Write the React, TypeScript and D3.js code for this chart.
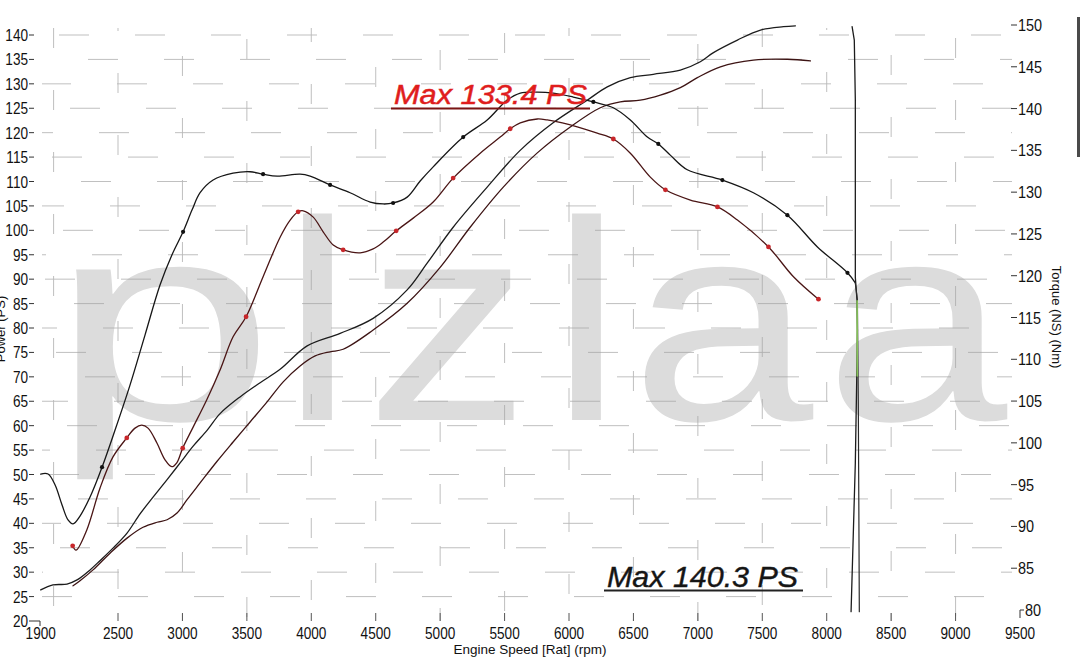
import React from "react";
import * as d3 from "d3";

// ---------- DATA ----------
// Black power curve (PS, left axis)
const powerARpm = [1900, 1957, 2011, 2065, 2112, 2151, 2205, 2283, 2376, 2477, 2593, 2710, 2826, 2919, 3005, 3075, 3137, 3238, 3393, 3525, 3626, 3735, 3913, 3991, 4146, 4301, 4457, 4558, 4635, 4744, 4845, 4946, 5179, 5365, 5521, 5622, 5754, 5878, 6033, 6189, 6344, 6476, 6608, 6693, 6786, 6918, 7190, 7431, 7695, 7928, 8161, 8223];
const powerAPs = [50.1, 50.1, 47.9, 43.8, 40.7, 39.9, 41.5, 45.4, 51.5, 59.1, 68.3, 78.6, 88.8, 95.0, 99.7, 104.2, 107.7, 110.3, 111.7, 112.0, 111.5, 111.1, 111.5, 111.1, 109.3, 107.7, 105.8, 105.4, 105.6, 106.8, 110.1, 113.0, 119.1, 122.6, 126.7, 128.1, 128.3, 128.1, 127.3, 126.3, 125.1, 122.6, 119.1, 117.7, 115.4, 112.4, 110.3, 107.7, 103.1, 96.6, 91.3, 89.2];
const powerAMarkers = [8, 14, 20, 24, 28, 32, 39, 43, 46, 48, 50];

// Red power curve (PS, left axis)
const powerBRpm = [2148, 2174, 2257, 2360, 2461, 2568, 2632, 2684, 2733, 2801, 2865, 2917, 2956, 3002, 3083, 3189, 3292, 3393, 3494, 3626, 3758, 3836, 3898, 3937, 4015, 4092, 4170, 4247, 4379, 4480, 4558, 4659, 4791, 4946, 5101, 5311, 5466, 5544, 5622, 5754, 5831, 5948, 6064, 6219, 6344, 6476, 6631, 6748, 6942, 7152, 7307, 7548, 7742, 7936];
const powerBPs = [35.4, 34.5, 38.6, 47.2, 53.6, 57.5, 59.5, 60.1, 59.5, 56.5, 53.0, 51.6, 52.4, 55.4, 59.7, 65.3, 71.4, 78.2, 82.3, 90.5, 98.6, 102.1, 103.8, 104.0, 102.7, 99.7, 97.0, 96.0, 95.4, 96.2, 97.6, 99.9, 102.5, 105.8, 110.7, 115.8, 119.1, 120.8, 122.0, 122.8, 122.6, 122.0, 121.2, 119.9, 118.7, 115.8, 110.9, 108.3, 106.2, 104.8, 102.1, 96.6, 90.5, 85.9];
const powerBMarkers = [0, 5, 13, 18, 22, 27, 31, 34, 37, 44, 47, 49, 51, 53];

// Black torque curve (Nm, right axis)
const torqueARpm = [1900, 1995, 2104, 2182, 2283, 2360, 2461, 2570, 2671, 2772, 2881, 2982, 3083, 3191, 3292, 3447, 3603, 3758, 3968, 4224, 4480, 4744, 4899, 5101, 5365, 5621, 5877, 6141, 6297, 6476, 6654, 6864, 7019, 7121, 7307, 7486, 7664, 7757];
const torqueANm = [82.4, 83.0, 83.1, 83.6, 84.8, 85.9, 87.4, 89.2, 91.5, 93.5, 95.6, 97.6, 99.6, 101.5, 103.5, 105.5, 107.2, 108.8, 111.6, 113.1, 114.9, 118.3, 121.5, 125.8, 130.6, 135.0, 138.3, 141.0, 142.6, 143.7, 144.1, 144.6, 145.6, 146.7, 148.2, 149.4, 149.8, 149.9];

// Red torque curve (Nm, right axis)
const torqueBRpm = [2151, 2205, 2306, 2438, 2570, 2694, 2803, 2881, 2958, 3036, 3137, 3269, 3393, 3525, 3657, 3782, 3913, 4030, 4146, 4247, 4480, 4744, 5000, 5233, 5490, 5754, 6010, 6243, 6398, 6553, 6709, 6864, 6996, 7175, 7431, 7695, 7874];
const torqueBNm = [82.9, 83.5, 84.8, 86.8, 88.6, 89.9, 90.5, 90.8, 91.6, 93.2, 95.2, 97.8, 100.1, 102.5, 104.9, 107.3, 109.2, 110.4, 110.9, 111.2, 113.5, 116.7, 121.0, 125.8, 130.6, 134.7, 137.8, 140.1, 140.8, 141.0, 141.6, 142.5, 143.7, 145.0, 145.8, 145.9, 145.7];

// End-of-run drop lines (Nm, right axis)
const dropARpm = [8197, 8214, 8222, 8222, 8235, 8238, 8235, 8222, 8189];
const dropANm = [149.8, 148.2, 141.0, 119.8, 117.1, 113.5, 109.6, 97.6, 79.8];
const dropBRpm = [8222, 8238, 8245, 8249, 8253];
const dropBNm = [119.1, 117.1, 105.1, 93.3, 79.8];
const dropGreenRpm = [8236, 8237];
const dropGreenNm = [117.0, 108.0];

// Axes
const leftTicks = d3.range(20, 141, 5);
const rightTicks = d3.range(80, 151, 5);
const bottomTicks = [1900, 2500, 3000, 3500, 4000, 4500, 5000, 5500, 6000, 6500, 7000, 7500, 8000, 8500, 9000, 9500];
const vGrid = d3.range(2000, 9001, 500);
const hGrid = d3.range(25, 141, 5);

const labelTop = "Max 133.4 PS";
const labelBottom = "Max 140.3 PS";
const xTitle = "Engine Speed [Rat] (rpm)";
const yLeftTitle = "Power (PS)";
const yRightTitle = "Torque (NS) (Nm)";
const watermark = ["p", "l", "z", "l", "a", "a"];

// ---------- CHART ----------
const W = 1080, H = 672;
const x = d3.scaleLinear().domain([1900, 9500]).range([40.7, 1020]);
const yL = d3.scaleLinear().domain([20, 140]).range([621, 35]);
const yR = d3.scaleLinear().domain([80, 150]).range([610, 25]);

const zip = (a: number[], b: number[]) => a.map((v, i) => [v, b[i]] as [number, number]);
const curve = d3.curveCatmullRom.alpha(0.5);
const lineL = d3.line<[number, number]>().x(d => x(d[0])).y(d => yL(d[1])).curve(curve);
const lineR = d3.line<[number, number]>().x(d => x(d[0])).y(d => yR(d[1])).curve(curve);
const lineRstraight = d3.line<[number, number]>().x(d => x(d[0])).y(d => yR(d[1]));

const FONT = "'Liberation Sans', Arial, Helvetica, sans-serif";

// watermark letter placement (presentation only)
const wmX = [50, 281, 366, 550, 631, 825];
const wmScale = [1.42, 1.15, 1.15, 1.15, 1.15, 1.15];

export default function App() {
  const pA = zip(powerARpm, powerAPs);
  const pB = zip(powerBRpm, powerBPs);
  const tA = zip(torqueARpm, torqueANm);
  const tB = zip(torqueBRpm, torqueBNm);
  return (
    <svg width={W} height={H} viewBox={`0 0 ${W} ${H}`} style={{ position: "absolute", left: 0, top: 0, background: "#fff" }} fontFamily={FONT}>
      <rect x={0} y={0} width={W} height={H} fill="#fff" />
      {/* watermark */}
      {watermark.map((ch, i) => (
        <text key={"wm" + i} transform={`translate(${wmX[i]},420) scale(${wmScale[i]},1)`} fontSize={285} fill="#dcdcdc" fontFamily={FONT}>{ch}</text>
      ))}
      {/* grid */}
      <g stroke="#a2a2a2" strokeWidth={0.9} opacity={0.75}>
        {hGrid.map((v, i) => (
          <line key={"h" + v} x1={42} x2={1012} y1={yL(v)} y2={yL(v)} strokeDasharray="30 46" strokeDashoffset={(i * 29) % 76} />
        ))}
        {vGrid.map((v, i) => (
          <line key={"v" + v} x1={x(v)} x2={x(v)} y1={28} y2={621} strokeDasharray="20 42" strokeDashoffset={(i * 17) % 62} />
        ))}
      </g>
      {/* axes ticks and labels */}
      <g fill="#111" fontSize={16}>
        {leftTicks.map(v => (
          <g key={"lt" + v}>
            <line x1={29} x2={34} y1={yL(v)} y2={yL(v)} stroke="#333" strokeWidth={1} />
            <text transform={`translate(28,${yL(v) + 6}) scale(0.85,1)`} textAnchor="end">{v}</text>
          </g>
        ))}
        <path d={`M34,${yL(20)}H40V${yL(20) + 5}`} fill="none" stroke="#333" strokeWidth={1} />
        {rightTicks.map(v => (
          <g key={"rt" + v}>
            {v !== 80 && <line x1={1011} x2={1017} y1={yR(v)} y2={yR(v)} stroke="#333" strokeWidth={1} />}
            <text transform={`translate(${v === 80 ? 1025 : 1018},${yR(v) + 6}) scale(0.85,1)`} textAnchor="start" fontSize={17}>{v}</text>
          </g>
        ))}
        <path d={`M1020,${yR(80) + 8}V${yR(80)}H1024`} fill="none" stroke="#333" strokeWidth={1} />
        {bottomTicks.map(v => (
          <g key={"bt" + v}>
            {v !== 1900 && v !== 9500 && <line x1={x(v)} x2={x(v)} y1={613} y2={621} stroke="#555" strokeWidth={1} />}
            <text transform={`translate(${x(v)},639) scale(0.85,1)`} textAnchor="middle">{v}</text>
          </g>
        ))}
        <text x={530} y={654} textAnchor="middle" fontSize={13.5}>{xTitle}</text>
        <text transform="translate(5,329) rotate(-90)" textAnchor="middle" fontSize={13}>{yLeftTitle}</text>
        <text transform="translate(1052,317) rotate(90)" textAnchor="middle" fontSize={13}>{yRightTitle}</text>
      </g>
      {/* curves */}
      <g fill="none" strokeLinejoin="round" strokeLinecap="round">
        <path d={lineR(tA) || ""} stroke="#1c1c1c" strokeWidth={1.3} />
        <path d={lineR(tB) || ""} stroke="#3d1414" strokeWidth={1.3} />
        <path d={lineL(pB) || ""} stroke="#4a1515" strokeWidth={1.3} />
        <path d={lineL(pA) || ""} stroke="#161616" strokeWidth={1.3} />
        <path d={lineRstraight(zip(dropARpm, dropANm)) || ""} stroke="#1c1c1c" strokeWidth={1.3} />
        <path d={lineRstraight(zip(dropBRpm, dropBNm)) || ""} stroke="#2a2a2a" strokeWidth={1.2} />
        <path d={lineRstraight(zip(dropGreenRpm, dropGreenNm)) || ""} stroke="#86c35a" strokeWidth={1.6} />
      </g>
      {/* markers */}
      {powerAMarkers.map(i => (
        <circle key={"ma" + i} cx={x(powerARpm[i])} cy={yL(powerAPs[i])} r={2.1} fill="#111" />
      ))}
      {powerBMarkers.map(i => (
        <circle key={"mb" + i} cx={x(powerBRpm[i])} cy={yL(powerBPs[i])} r={2.4} fill="#c8262a" />
      ))}
      {/* max labels */}
      <text x={394} y={104} fontSize={27} fontStyle="italic" fill="#e01d1d" stroke="#e01d1d" strokeWidth={0.5} textLength={193} lengthAdjust="spacingAndGlyphs">{labelTop}</text>
      <line x1={391} x2={590} y1={108.5} y2={108.5} stroke="#7a1414" strokeWidth={2} />
      <text x={607} y={587} fontSize={29} fontStyle="italic" fill="#151515" stroke="#151515" strokeWidth={0.4} textLength={191} lengthAdjust="spacingAndGlyphs">{labelBottom}</text>
      <line x1={604} x2={803} y1={590.5} y2={590.5} stroke="#222" strokeWidth={2.2} />
      {/* scan edge artifact */}
      <rect x={1077} y={17} width={3} height={140} fill="#4a4a4a" />
    </svg>
  );
}
